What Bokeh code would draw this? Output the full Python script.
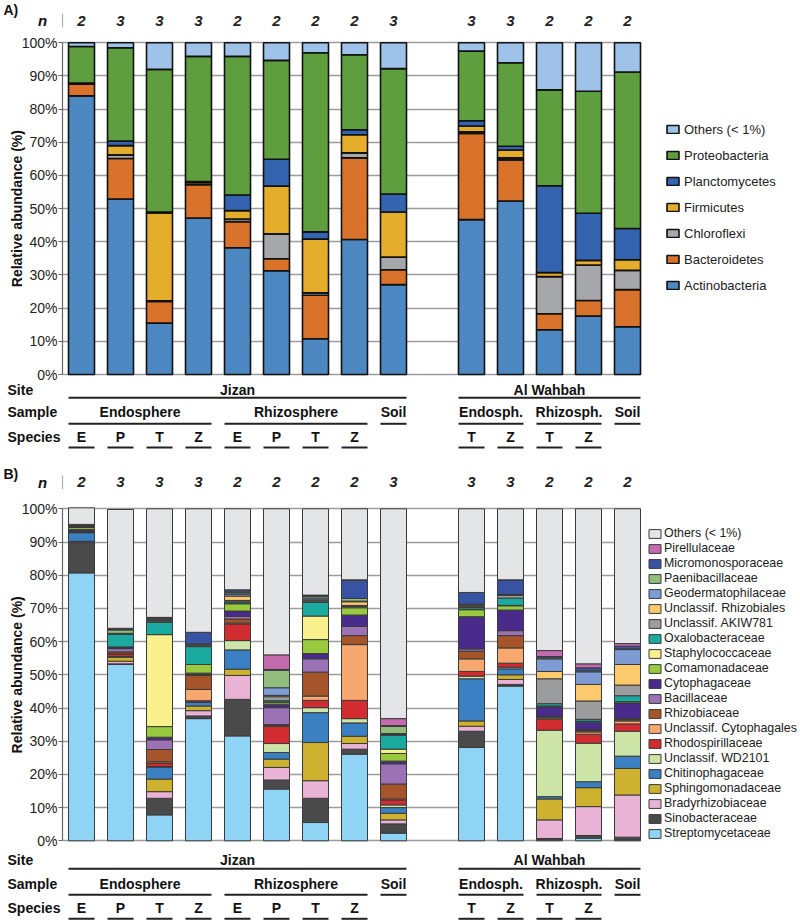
import numpy as np
from bokeh.plotting import figure
from bokeh.models import (ColumnDataSource, Legend, LegendItem, Label, FixedTicker,
                          PrintfTickFormatter, Range1d, BoxAnnotation)
from bokeh.layouts import column
from bokeh.embed import file_html
from bokeh.resources import INLINE
from bokeh.core.properties import value

# ---------------- data ----------------
site = ["Jizan"] * 9 + ["Al Wahbah"] * 5
sample = (["Endosphere"] * 4 + ["Rhizosphere"] * 4 + ["Soil"]
          + ["Endosph."] * 2 + ["Rhizosph."] * 2 + ["Soil"])
species = ["E", "P", "T", "Z", "E", "P", "T", "Z", "", "T", "Z", "T", "Z", ""]
n_reps = [2, 3, 3, 3, 2, 2, 2, 2, 3, 3, 3, 2, 2, 2]

# Panel A: phyla (stack order bottom -> top)
phyla = ["Actinobacteria", "Bacteroidetes", "Chloroflexi", "Firmicutes",
         "Planctomycetes", "Proteobacteria", "Others (< 1%)"]
phyla_colors = ["#4E88C2", "#D9722B", "#A5A7AA", "#E5AD2C", "#3463B0", "#5F9E3F", "#9FC3E8"]
actinobacteria = [84.0, 52.9, 15.5, 47.2, 38.2, 31.3, 10.8, 40.7, 27.1, 46.7, 52.3, 13.5, 17.6, 14.4]
bacteroidetes = [3.5, 12.2, 6.5, 10.0, 7.9, 3.6, 13.1, 24.6, 4.5, 26.0, 12.4, 4.8, 4.7, 11.2]
chloroflexi = [0.1, 1.1, 0.2, 0.2, 0.8, 7.5, 0.7, 1.5, 3.8, 0.5, 0.6, 11.2, 10.7, 5.8]
firmicutes = [0.2, 2.8, 26.5, 0.6, 2.5, 14.4, 16.2, 5.5, 13.6, 1.7, 2.4, 1.2, 1.4, 3.2]
planctomycetes = [0.1, 1.4, 0.3, 0.2, 4.7, 8.1, 2.2, 1.5, 5.4, 1.6, 1.1, 26.2, 14.2, 9.4]
proteobacteria = [11.0, 28.1, 43.0, 37.7, 41.8, 29.8, 54.0, 22.6, 37.8, 21.0, 25.2, 28.9, 36.8, 47.2]
others_a = [1.1, 1.5, 8.0, 4.1, 4.1, 5.3, 3.0, 3.6, 7.8, 2.5, 6.0, 14.2, 14.6, 8.8]
phyla_values = [actinobacteria, bacteroidetes, chloroflexi, firmicutes,
                planctomycetes, proteobacteria, others_a]

# Panel B: families (stack order bottom -> top)
families = ["Streptomycetaceae", "Sinobacteraceae", "Bradyrhizobiaceae", "Sphingomonadaceae",
            "Chitinophagaceae", "Unclassif. WD2101", "Rhodospirillaceae", "Unclassif. Cytophagales",
            "Rhizobiaceae", "Bacillaceae", "Cytophagaceae", "Comamonadaceae", "Staphylococcaceae",
            "Oxalobacteraceae", "Unclassif. AKIW781", "Unclassif. Rhizobiales",
            "Geodermatophilaceae", "Paenibacillaceae", "Micromonosporaceae", "Pirellulaceae",
            "Others (< 1%)"]
family_colors = ["#8FD3F5", "#4A4A4A", "#E8B3D5", "#CDB12F", "#3B80C3", "#CCE4A6", "#D22B30",
                 "#F6A86F", "#A6542A", "#9A72B5", "#4A2B8C", "#98C93E", "#F8F18E", "#1BAAA0",
                 "#9B9C9E", "#FDC96D", "#7E9BD4", "#92BE7D", "#3852A4", "#C46BB0", "#E4E5E7"]
streptomycetaceae = [80.7, 53.1, 7.8, 36.8, 31.6, 15.6, 5.5, 26.1, 2.3, 28.1, 46.6, 0.3, 0.8, 0.3]
sinobacteraceae = [9.1, 0.2, 5.0, 0.8, 11.0, 2.7, 7.3, 1.5, 2.8, 4.9, 0.5, 0.4, 0.8, 0.8]
bradyrhizobiaceae = [0.3, 0.8, 2.0, 1.6, 7.2, 3.8, 5.3, 1.7, 1.2, 1.5, 1.5, 5.6, 8.7, 12.7]
sphingomonadaceae = [0.1, 1.2, 3.8, 1.4, 1.9, 2.5, 11.5, 2.2, 2.0, 1.6, 1.4, 6.3, 5.7, 8.0]
chitinophagaceae = [2.6, 0.2, 3.6, 1.1, 5.8, 2.0, 9.0, 4.0, 1.7, 12.7, 1.8, 0.7, 1.8, 3.7]
wd2101 = [0.1, 0.0, 0.2, 0.1, 2.8, 2.7, 1.5, 1.3, 0.8, 0.8, 0.5, 20.0, 11.6, 7.5]
rhodospirillaceae = [0.1, 0.8, 1.0, 0.4, 5.0, 5.2, 2.2, 5.5, 1.5, 1.4, 1.2, 3.3, 2.7, 2.2]
cytophagales = [0.1, 0.0, 0.4, 3.4, 0.3, 0.2, 1.3, 16.8, 0.3, 3.8, 4.6, 0.4, 0.7, 0.9]
rhizobiaceae = [0.1, 0.6, 3.7, 4.2, 1.2, 0.3, 7.2, 2.7, 4.5, 2.3, 3.7, 0.3, 0.4, 0.4]
bacillaceae = [0.1, 1.0, 2.9, 0.3, 0.8, 5.1, 4.0, 2.8, 6.1, 0.7, 1.5, 0.2, 0.3, 0.3]
cytophagaceae = [0.5, 0.3, 0.8, 0.4, 1.6, 0.9, 1.6, 3.4, 0.8, 9.7, 6.2, 2.8, 2.2, 4.7]
comamonadaceae = [0.6, 0.2, 3.2, 2.6, 2.2, 0.6, 4.2, 2.2, 2.3, 2.1, 1.3, 0.3, 0.3, 0.4]
staphylococcaceae = [0.1, 0.0, 27.7, 0.0, 0.2, 0.2, 7.1, 0.3, 1.3, 0.2, 0.1, 0.0, 0.0, 0.0]
oxalobacteraceae = [0.1, 3.8, 3.7, 5.4, 0.4, 0.4, 4.1, 0.2, 4.2, 0.5, 2.2, 0.7, 0.6, 1.8]
akiw781 = [0.1, 0.1, 0.4, 0.2, 0.4, 1.2, 0.4, 0.2, 0.2, 0.2, 0.8, 7.5, 5.5, 3.2]
rhizobiales = [0.1, 0.1, 0.2, 0.3, 1.3, 0.4, 0.3, 1.1, 0.2, 0.3, 0.1, 2.2, 5.0, 6.2]
geodermatophilaceae = [0.1, 0.1, 0.2, 0.2, 0.6, 2.3, 0.4, 0.2, 0.1, 0.2, 0.1, 3.8, 3.8, 4.5]
paenibacillaceae = [0.2, 1.0, 0.3, 0.1, 0.4, 5.3, 0.6, 0.8, 2.2, 0.3, 0.1, 0.3, 0.3, 0.2]
micromonosporaceae = [0.1, 0.3, 0.3, 3.5, 0.6, 0.2, 0.4, 5.4, 0.2, 3.5, 4.4, 0.4, 0.9, 0.8]
pirellulaceae = [0.1, 0.2, 0.1, 0.0, 0.3, 4.4, 0.1, 0.2, 2.1, 0.0, 0.0, 1.8, 1.2, 0.8]
others_b = [5.0, 35.8, 32.7, 37.2, 24.4, 44.0, 26.0, 21.4, 63.2, 25.2, 21.4, 42.7, 46.7, 40.6]
family_values = [streptomycetaceae, sinobacteraceae, bradyrhizobiaceae, sphingomonadaceae,
                 chitinophagaceae, wd2101, rhodospirillaceae, cytophagales, rhizobiaceae,
                 bacillaceae, cytophagaceae, comamonadaceae, staphylococcaceae, oxalobacteraceae,
                 akiw781, rhizobiales, geodermatophilaceae, paenibacillaceae,
                 micromonosporaceae, pirellulaceae, others_b]

# ---------------- layout constants (page pixels) ----------------
FONT = "Liberation Sans"
FIG_W = 800
AXIS_X, GRID_R = 62.0, 640.0
X0, SLOT = 81.0, 39.0          # first bar centre and slot pitch (px)
BAR_W = 26.0 / SLOT

# slot positions: one empty slot between the two sites
pos = []
slot = 0
for i, s in enumerate(site):
    if i > 0 and s != site[i - 1]:
        slot += 1
    pos.append(slot)
    slot += 1


def runs(keys):
    out = []
    start = 0
    for i in range(1, len(keys) + 1):
        if i == len(keys) or keys[i] != keys[start]:
            out.append((keys[start], start, i - 1))
            start = i
    return out


def px2x(px):
    return (px - X0) / SLOT


def make_panel(letter, cats, colors, values, cfg):
    top, height, zero, hundred = cfg["top"], cfg["height"], cfg["zero"], cfg["hundred"]
    per = (zero - hundred) / 100.0

    def py(page_y):
        return (zero - page_y) / per

    p = figure(width=FIG_W, height=height,
               x_range=Range1d(px2x(0), px2x(FIG_W)),
               y_range=Range1d(py(top + height), py(top)),
               output_backend="svg", toolbar_location=None,
               x_axis_location=None,
               min_border_left=0, min_border_right=0,
               min_border_top=0, min_border_bottom=0)
    p.outline_line_color = None
    p.background_fill_color = "white"
    p.xgrid.visible = False

    ax = p.yaxis[0]
    ax.fixed_location = px2x(AXIS_X)
    ax.ticker = FixedTicker(ticks=list(range(0, 101, 10)))
    ax.formatter = PrintfTickFormatter(format="%d%%")
    ax.bounds = (0, 100)
    ax.axis_line_color = "#666666"
    ax.axis_line_width = 1.2
    ax.major_tick_line_color = "#666666"
    ax.major_tick_out = 4
    ax.major_tick_in = 0
    ax.minor_tick_line_color = None
    ax.major_label_text_font = FONT
    ax.major_label_text_font_size = "14px"
    ax.major_label_text_color = "#222222"
    ax.major_label_standoff = 1

    g = p.ygrid[0]
    g.grid_line_color = "#9C9C9C"
    g.grid_line_width = 1.6
    if "cross_bounds" in g.properties():
        g.cross_bounds = (px2x(AXIS_X), px2x(GRID_R))
    else:
        p.add_layout(BoxAnnotation(left=px2x(GRID_R) + 0.01, fill_color="white", fill_alpha=1.0,
                                   line_color=None, level="glyph"))
        p.add_layout(BoxAnnotation(right=px2x(AXIS_X) - 0.01, fill_color="white", fill_alpha=1.0,
                                   line_color=None, level="glyph"))

    data = {"x": pos}
    for c, v in zip(cats, values):
        data[c] = v
    src = ColumnDataSource(data)
    rs = p.vbar_stack(cats, x="x", width=BAR_W, color=colors, source=src,
                      line_color=cfg["bar_line"], line_width=cfg["bar_lw"])

    # legend (top item = last in stack), placed inside the frame right of the bars
    items = [LegendItem(label=c, renderers=[r]) for c, r in zip(cats, rs)][::-1]
    lg = cfg["legend"]
    n_items = len(items)
    leg_top = lg["first"] - lg["item_h"] / 2.0 - top
    leg_h = n_items * lg["item_h"] + (n_items - 1) * lg["spacing"]
    vy = height - (leg_top + leg_h)
    legend = Legend(items=items, location=(lg["glyph_left"], vy),
                    label_text_font=FONT, label_text_font_size=lg["font"],
                    label_text_color="#222222",
                    glyph_width=lg["gw"], glyph_height=lg["gh"],
                    label_height=lg["item_h"], spacing=lg["spacing"],
                    label_standoff=lg["standoff"], padding=0, margin=0,
                    border_line_color=None, background_fill_alpha=0)
    p.add_layout(legend)

    # n row
    y_n = py(cfg["n_y"])
    p.text(x=pos, y=[y_n] * len(pos), text=[str(n) for n in n_reps],
           text_font=value(FONT), text_font_style="bold italic", text_font_size="15px",
           text_align="center", text_baseline="middle", text_color="#222222")
    p.segment(x0=[px2x(AXIS_X)], y0=[py(cfg["n_y"] - 7)],
              x1=[px2x(AXIS_X)], y1=[py(cfg["n_y"] + 7)],
              line_color="#B0B0B0", line_width=1.2)

    off = cfg["rows"]
    half = BAR_W / 2.0
    txt = dict(text_font=value(FONT), text_font_style="bold", text_font_size="14px",
               text_baseline="middle", text_color="#111111")

    # site row
    for name, a, b in runs(site):
        p.text(x=[(pos[a] + pos[b]) / 2.0], y=[py(zero + off[0])], text=[name],
               text_align="center", **txt)
        p.segment(x0=[pos[a] - half], y0=[py(zero + off[1])], x1=[pos[b] + half],
                  y1=[py(zero + off[1])], line_color="#222222", line_width=2)
    # sample row
    keys = [(s, m) for s, m in zip(site, sample)]
    for key, a, b in runs(keys):
        p.text(x=[(pos[a] + pos[b]) / 2.0], y=[py(zero + off[2])], text=[key[1]],
               text_align="center", **txt)
        p.segment(x0=[pos[a] - half], y0=[py(zero + off[3])], x1=[pos[b] + half],
                  y1=[py(zero + off[3])], line_color="#222222", line_width=2)
    # species row
    sp_x = [pos[i] for i in range(len(species)) if species[i]]
    sp_t = [species[i] for i in range(len(species)) if species[i]]
    p.text(x=sp_x, y=[py(zero + off[4])] * len(sp_x), text=sp_t, text_align="center", **txt)
    p.segment(x0=[x - half for x in sp_x], y0=[py(zero + off[5])] * len(sp_x),
              x1=[x + half for x in sp_x], y1=[py(zero + off[5])] * len(sp_x),
              line_color="#222222", line_width=2)

    # left-hand labels
    def lab(text, px, pyy, align="left", style="bold", size="14px", angle=0.0):
        p.add_layout(Label(x=px2x(px), y=py(pyy), text=text, text_font=FONT,
                           text_font_style=style, text_font_size=size,
                           text_align=align, text_baseline="middle",
                           text_color="#111111", angle=angle))

    lab(letter, 3, cfg["letter_y"])
    lab("n", 42, cfg["n_y"], align="center", style="bold italic", size="15px")
    lab("Site", 7, zero + off[0])
    lab("Sample", 7, zero + off[2])
    lab("Species", 7, zero + off[4])
    lab("Relative abundance (%)", 16.5, (zero + hundred) / 2.0, align="center",
        angle=np.pi / 2)
    return p


cfg_a = dict(top=0, height=462, zero=374.0, hundred=42.3, n_y=20.0, letter_y=9.5,
             rows=[15.0, 23.3, 37.7, 49.3, 62.0, 73.0],
             bar_line="#111111", bar_lw=1.6,
             legend=dict(first=129.0, item_h=16, spacing=10, glyph_left=665.0,
                         gw=15, gh=10, standoff=4, font="13px"))
cfg_b = dict(top=462, height=458, zero=840.3, hundred=508.3, n_y=481.7, letter_y=473.0,
             rows=[19.0, 28.0, 43.0, 54.0, 67.0, 78.0],
             bar_line="#3A3A3A", bar_lw=1.0,
             legend=dict(first=533.0, item_h=14, spacing=1, glyph_left=647.0,
                         gw=15, gh=11, standoff=2, font="12.4px"))

pa = make_panel("A)", phyla, phyla_colors, phyla_values, cfg_a)
pb = make_panel("B)", families, family_colors, family_values, cfg_b)

layout = column(pa, pb, spacing=0)
open("out.html", "w").write(file_html(layout, INLINE))
